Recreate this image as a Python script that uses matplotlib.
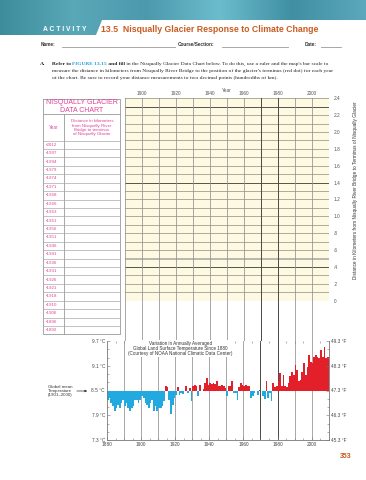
import numpy as np
import matplotlib.pyplot as plt
from matplotlib.patches import Polygon

# annual land surface temperature (deg C anomaly vs 8.5 C mean)
years = list(range(1880, 2010))
anomaly = [
    -0.22, -0.18, -0.30, -0.38, -0.50, -0.42, -0.34, -0.42, -0.30, -0.22,
    -0.38, -0.30, -0.42, -0.50, -0.42, -0.38, -0.22, -0.22, -0.30, -0.22,
    -0.14, -0.18, -0.30, -0.34, -0.42, -0.30, -0.22, -0.50, -0.38, -0.50,
    -0.42, -0.42, -0.38, -0.26, 0.10, 0.08, -0.22, -0.58, -0.34, -0.18,
    -0.10, 0.08, -0.10, -0.06, -0.08, -0.02, 0.10, -0.05, 0.05, -0.26,
    0.11, 0.14, 0.10, -0.14, 0.14, -0.02, 0.04, 0.18, 0.30, 0.14,
    0.18, 0.16, 0.18, 0.15, 0.22, 0.10, 0.11, 0.14, 0.11, 0.07,
    -0.14, 0.10, 0.11, 0.24, -0.05, -0.06, -0.22, 0.08, 0.19, 0.14,
    0.11, 0.14, 0.11, 0.11, -0.18, -0.13, -0.05, -0.02, -0.10, 0.02,
    -0.02, -0.14, -0.21, 0.22, -0.18, -0.05, -0.26, 0.18, 0.08, 0.10,
    0.22, 0.42, 0.10, 0.38, 0.10, 0.08, 0.18, 0.34, 0.46, 0.38,
    0.62, 0.50, 0.22, 0.26, 0.46, 0.66, 0.38, 0.58, 0.86, 0.70,
    0.66, 0.82, 0.86, 0.82, 0.78, 0.98, 0.82, 1.06, 0.78, 0.82,
]
mean_c = 8.5
c_ticks = [7.3, 7.9, 8.5, 9.1, 9.7]
c_labels = ['7.3 °C', '7.9 °C', '8.5 °C', '9.1 °C', '9.7 °C']
f_labels = ['45.3 °F', '46.3 °F', '47.3 °F', '48.3 °F', '49.3 °F']
bar_years = [1880, 1900, 1920, 1940, 1960, 1980, 2000]

# glacier data chart
table_years = ['2012', '1997', '1994', '1979', '1974', '1971', '1968', '1966',
               '1963', '1961', '1956', '1951', '1946', '1941', '1936', '1931',
               '1926', '1921', '1918', '1910', '1906', '1896', '1892']
dist_ticks = [0, 0.2, 0.4, 0.6, 0.8, 1.0, 1.2, 1.4, 1.6, 1.8, 2.0, 2.2, 2.4]
dist_labels = ['0', '.2', '.4', '.6', '.8', '1.0', '1.2', '1.4', '1.6', '1.8',
               '2.0', '2.2', '2.4']
grid_years = [1900, 1920, 1940, 1960, 1980, 2000]

MAG = '#e0409a'
ORANGE = '#c95a1e'
BLUE = '#22a9e0'
RED = '#e3202a'
GRIDC = '#8e8c7c'

plt.rcParams['font.family'] = ['Liberation Sans', 'DejaVu Sans']
fig = plt.figure(figsize=(3.66, 4.8), dpi=100)

# page overlay in pixel coordinates
page = fig.add_axes([0, 0, 1, 1], zorder=0)
page.set_xlim(0, 366)
page.set_ylim(480, 0)
page.axis('off')

# banner
band = Polygon([(0, 0), (366, 0), (366, 20), (102, 20), (96, 35), (0, 35)],
               closed=True, fc='none', ec='none')
page.add_patch(band)
stops = np.array([[0.24, 0.55, 0.61], [0.35, 0.66, 0.72], [0.30, 0.60, 0.68],
                  [0.42, 0.74, 0.80], [0.25, 0.56, 0.64], [0.36, 0.66, 0.74]])
xs = np.linspace(0, len(stops) - 1, 400)
grad = np.stack([np.interp(xs, np.arange(len(stops)), stops[:, k]) for k in range(3)], axis=-1)
img = page.imshow(grad[None, :, :], extent=(0, 366, 35, 0), aspect='auto', zorder=1)
img.set_clip_path(band)
page.set_xlim(0, 366)
page.set_ylim(480, 0)
page.text(43, 31, 'A C T I V I T Y', color='white', fontsize=4.9, fontweight='bold', va='baseline')
page.text(101, 31.5, '13.5  Nisqually Glacier Response to Climate Change', color=ORANGE,
          fontsize=6.3, fontweight='bold', va='baseline')

# name line
for label, x0, lx0, lx1 in [('Name:', 41, 62, 175), ('Course/Section:', 178, 222, 288),
                            ('Date:', 305, 321, 341)]:
    page.text(x0, 46.5, label, fontsize=3.4, fontweight='bold', color='#333', va='baseline')
    page.plot([lx0, lx1], [47, 47], color='#999', lw=0.6)

# instruction paragraph, drawn as runs
renderer = fig.canvas.get_renderer()


def runs(x, y, parts):
    for s, kw in parts:
        t = page.text(x, y, s, family='Liberation Serif', fontsize=3.95, va='baseline',
                      color=kw.get('color', '#222'), fontweight=kw.get('weight', 'normal'))
        x += t.get_window_extent(renderer).width


page.text(40, 65, 'A.', family='Liberation Serif', fontsize=3.95, fontweight='bold',
          va='baseline', color='#222')
runs(52, 65, [('Refer to ', {'weight': 'bold'}),
              ('FIGURE 13.15', {'weight': 'bold', 'color': '#2a9fd6'}),
              (' and fill', {'weight': 'bold'}),
              (" in the Nisqually Glacier Data Chart below. To do this, use a ruler and the map's bar scale to", {})])
runs(52, 72, [("measure the distance in kilometers from Nisqually River Bridge to the position of the glacier's terminus (red dot) for each year", {})])
runs(52, 79, [('of the chart. Be sure to record your distance measurements to two decimal points (hundredths of km).', {})])

# data table
tx0, tx1, tdiv = 43, 120, 64
ty0, ty_title, ty_head = 99, 114, 140.5
row_h = 8.43
ty1 = ty_head + row_h * len(table_years)
page.plot([tx0, tx1, tx1, tx0, tx0], [ty0, ty0, ty1, ty1, ty0], color='#999', lw=0.6)
page.plot([tx0, tx1], [ty_title, ty_title], color='#999', lw=0.6)
page.plot([tdiv, tdiv], [ty_title, ty1], color='#999', lw=0.6)
page.text((tx0 + tx1) / 2, 106.5, 'NISQUALLY GLACIER\nDATA CHART', color=MAG, fontsize=5.0,
          ha='center', va='center', linespacing=1.0)
page.text((tx0 + tdiv) / 2, 127.5, 'Year', color=MAG, fontsize=3.3, ha='center', va='center')
page.text((tdiv + tx1) / 2, 127.5, 'Distance in kilometers\nfrom Nisqually River\nBridge to terminus\nof Nisqually Glacier',
          color=MAG, fontsize=3.2, ha='center', va='center', linespacing=1.0)
for i, yr in enumerate(table_years):
    y = ty_head + i * row_h
    page.plot([tx0, tx1], [y, y], color='#aaa', lw=0.5)
    page.text(45.5, y + row_h / 2, '•' + yr, color=MAG, fontsize=3.2, va='center')

# distance grid
g = fig.add_axes([125 / 366, 1 - 341 / 480, 203.7 / 366, 242.7 / 480], zorder=2)
g.set_xlim(1890, 2010)
g.set_ylim(-0.478, 2.4)
g.axhspan(0, 2.4, color='#fdf9e2', lw=0, zorder=0)
for k in range(1, 25):
    v = k / 10
    c, w = GRIDC, 0.5
    if k in (23, 14, 4):
        c, w = '#55544a', 0.7
    g.plot([1890, 2010], [v, v], color=c, lw=w, zorder=1)
g.plot([1890, 2010], [0.5, 0.5], color='#b9b8ae', lw=1.4, zorder=1)
for yr in range(1890, 2011, 10):
    dark = yr in (1970, 1980)
    g.axvline(yr, color='#4a4a44' if dark else '#909090', lw=0.7 if dark else 0.55, zorder=2)
for s in g.spines.values():
    s.set_visible(False)
g.yaxis.tick_right()
g.set_yticks(dist_ticks, dist_labels)
g.xaxis.tick_top()
g.set_xticks(grid_years)
g.tick_params(axis='both', length=0, labelsize=3.4, colors='#555')
g.tick_params(axis='y', pad=3.5)
g.tick_params(axis='x', pad=1.5)
page.text(227, 90, 'Year', fontsize=3.4, color='#555', ha='center', va='center')
page.text(356, 190, 'Distance in Kilometers from Nisqually River Bridge to Terminus of Nisqually Glacier',
          fontsize=3.4, color='#333', rotation=90, ha='center', va='center')

# temperature bar chart
b = fig.add_axes([107 / 366, 1 - 440 / 480, 221.7 / 366, 99 / 480], zorder=3)
b.patch.set_alpha(0)
b.set_xlim(1880, 2010)
b.set_ylim(7.3, 9.7)
for yr in range(1890, 2010, 10):
    dark = yr in (1970, 1980)
    b.axvline(yr, color='#4a4a44' if dark else '#909090', lw=0.7 if dark else 0.55, zorder=1)
colors = [RED if a > 0 else BLUE for a in anomaly]
b.bar(years, anomaly, bottom=mean_c, width=1.0, align='edge', color=colors, lw=0, zorder=2)
b.spines['top'].set_visible(False)
for side in ('left', 'bottom', 'right'):
    b.spines[side].set_color('#777')
    b.spines[side].set_linewidth(0.6)
b.set_yticks(c_ticks, c_labels)
b.set_yticks(np.arange(7.3, 9.71, 0.2), minor=True)
b.set_xticks(bar_years)
b.set_xticks(range(1880, 2011, 5), minor=True)
b.tick_params(axis='both', which='both', direction='in', colors='#777', labelcolor='#444',
              labelsize=3.4, width=0.4, pad=1.5)
b.tick_params(axis='both', which='major', length=2.5)
b.tick_params(axis='both', which='minor', length=1.5)
b.tick_params(axis='x', which='minor', top=True)
r = b.twinx()
r.set_ylim(7.3, 9.7)
r.set_yticks(c_ticks, f_labels)
r.set_yticks(np.arange(7.3, 9.71, 0.2), minor=True)
for s in r.spines.values():
    s.set_visible(False)
r.tick_params(axis='y', which='both', direction='in', colors='#777', labelcolor='#444',
              labelsize=3.4, width=0.4, pad=1.5)
r.tick_params(axis='y', which='major', length=2.5)
r.tick_params(axis='y', which='minor', length=1.5)
b.text(1923, 9.52, 'Variation in Annually Averaged\nGlobal Land Surface Temperature Since 1880\n(Courtesy of NOAA National Climatic Data Center)',
       fontsize=3.3, color='#333', ha='center', va='center', linespacing=1.05, zorder=4,
       bbox=dict(fc='white', ec='none', pad=0.3))
page.text(48, 391, 'Global mean\nTemperature\n(1901–2000)', fontsize=3.2, color='#333',
          va='center', linespacing=1.0)
page.annotate('', xy=(90, 391), xytext=(74, 391),
              arrowprops=dict(arrowstyle='-|>', lw=0.5, color='#333', mutation_scale=3))

page.text(346, 456, '353', color=ORANGE, fontsize=5, fontweight='bold', ha='center', va='center')

fig.savefig('out.png', dpi=100)
